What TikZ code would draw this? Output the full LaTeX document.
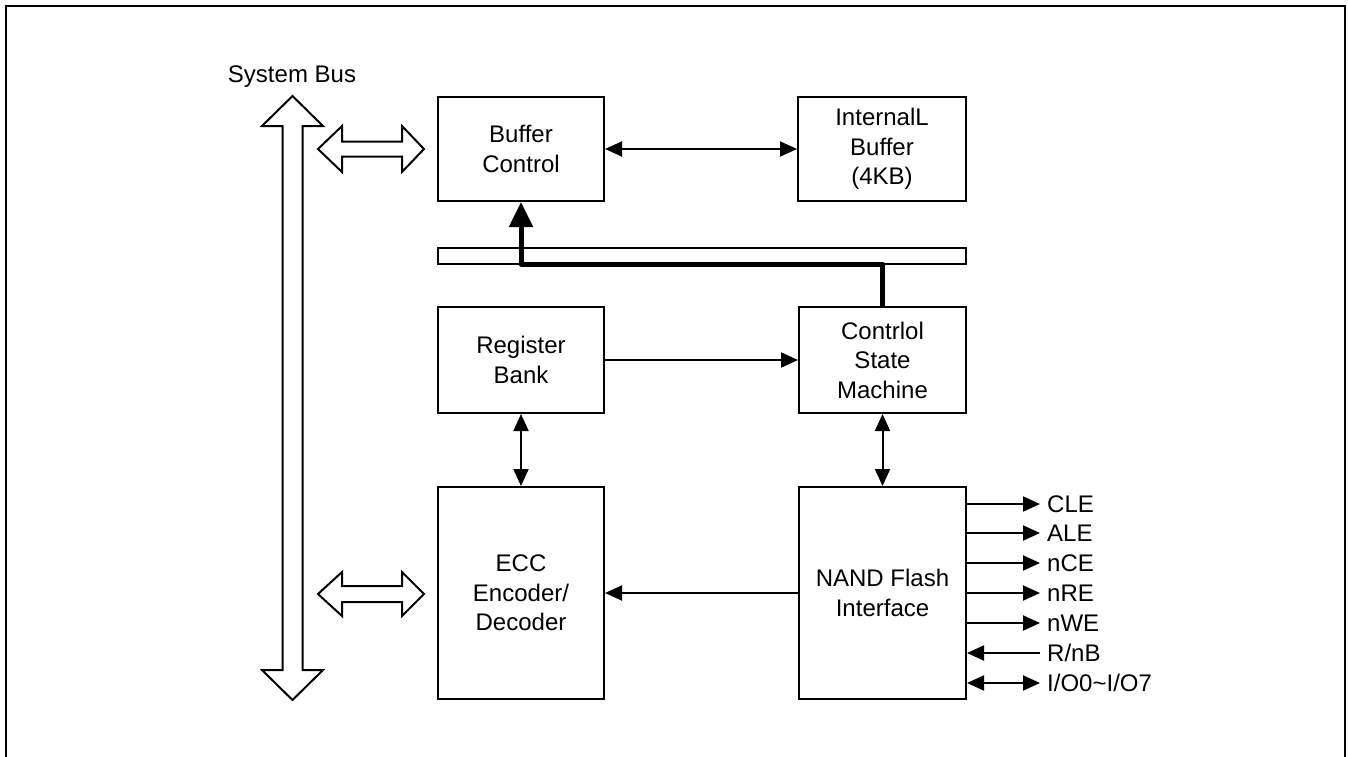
\documentclass[tikz,border=0pt]{standalone}
\usepackage{fontspec}
\setmainfont{Liberation Sans}
\usetikzlibrary{arrows.meta,calc}
\begin{document}
\begin{tikzpicture}[x=1pt,y=-1pt,
  blk/.style={draw,line width=2pt,align=center,inner sep=0pt,font=\fontsize{24}{29.5}\selectfont},
  conn/.style={line width=2pt,-{Triangle[length=17pt,width=15pt]}},
  dconn/.style={line width=2pt,{Triangle[length=17pt,width=15pt]}-{Triangle[length=17pt,width=15pt]}},
  bigarrow/.style={line width=5pt,line join=round,-{Triangle[length=25pt,width=23pt]}},
  hollow/.style={draw,line width=2pt,fill=white,line join=miter},
  lbl/.style={anchor=west,inner sep=0pt,font=\fontsize{24}{28}\selectfont}]
\useasboundingbox (0,0) rectangle (1348,756);
% frame
\draw[line width=2.5pt] (6,757) -- (6,6) -- (1345,6) -- (1345,757);
% blocks
\node[blk,minimum width=166pt,minimum height=104pt] (bc) at (521,149) {Buffer\\Control};
\node[blk,minimum width=168pt,minimum height=104pt] (ib) at (882,149) {InternalL\\Buffer\\(4KB)};
\node[draw,line width=2pt,minimum width=528pt,minimum height=16pt,inner sep=0pt] (bar) at (702,256) {};
\node[blk,minimum width=166pt,minimum height=106pt] (rb) at (521,360) {Register\\Bank};
\node[blk,minimum width=167pt,minimum height=106pt] (csm) at (882.5,360) {Contrlol\\State\\Machine};
\node[blk,minimum width=166pt,minimum height=212pt] (ecc) at (521,593) {ECC\\Encoder/\\Decoder};
\node[blk,minimum width=167pt,minimum height=212pt] (nand) at (882.5,593) {NAND Flash\\Interface};
% system bus
\node[lbl,anchor=center] (sb) at (292,77) {System Bus};
\draw[hollow] (292.5,96) -- (323,126) -- (302.5,126) -- (302.5,670) -- (323,670) -- (292.5,700)
  -- (262,670) -- (282.5,670) -- (282.5,126) -- (262,126) -- cycle;
\draw[hollow] (318,149) -- (342,126) -- (342,141.5) -- (402,141.5) -- (402,126) -- (424,149)
  -- (402,172) -- (402,156.5) -- (342,156.5) -- (342,172) -- cycle;
\draw[hollow] (318,594) -- (342,572) -- (342,586) -- (402,586) -- (402,572) -- (424,594)
  -- (402,616) -- (402,602) -- (342,602) -- (342,616) -- cycle;
% connectors
\draw[dconn] (bc.east) -- (ib.west);
\draw[conn] (rb.east) -- (csm.west);
\draw[dconn] (rb.south) -- (ecc.north);
\draw[dconn] (csm.south) -- (nand.north);
\draw[conn] (nand.west) -- (ecc.east);
\coordinate (k1) at ($(csm.north |- bar.south)+(0,-1)$);
\coordinate (k2) at ($(bc.south |- bar.south)+(0,-1)$);
\draw[bigarrow] (csm.north) -- (k1) -- (k2) -- (bc.south);
% signals
\foreach \n/\t/\y in {cle/CLE/504,ale/ALE/533,nce/nCE/563,nre/nRE/593,nwe/nWE/623}{
  \node[lbl] (\n) at (1047,\y) {\t};
  \draw[conn] (nand.east |- \n.west) -- ([xshift=-7pt]\n.west);
}
\node[lbl] (rnb) at (1047,653) {R/nB};
\draw[conn] ([xshift=-7pt]rnb.west) -- (nand.east |- rnb.west);
\node[lbl] (io) at (1047,683) {I/O0\textasciitilde I/O7};
\draw[dconn] (nand.east |- io.west) -- ([xshift=-7pt]io.west);
\end{tikzpicture}
\end{document}
